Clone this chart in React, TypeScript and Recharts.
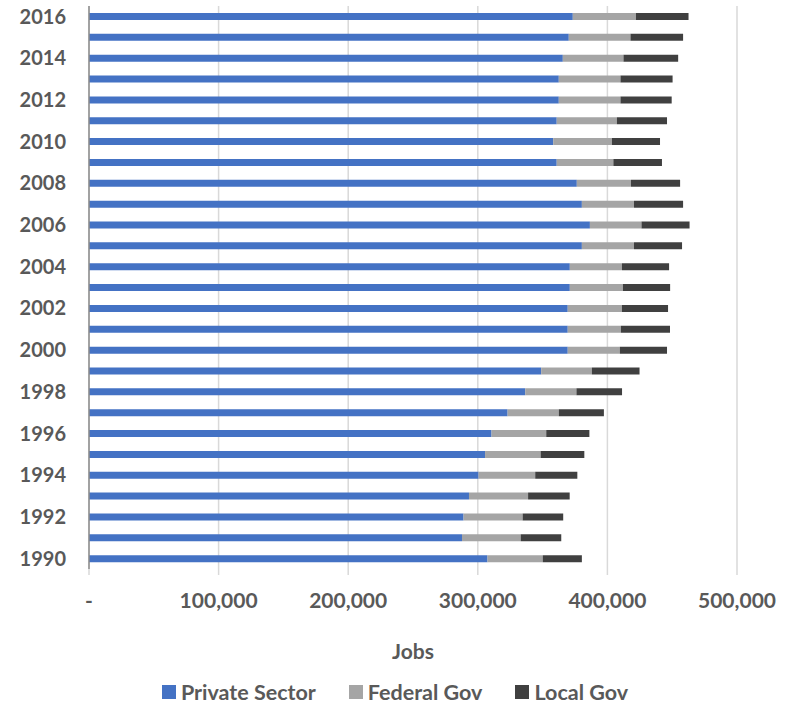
import React from "react";
import { BarChart, Bar, XAxis, YAxis, CartesianGrid, Legend, Label } from "recharts";

const years = [
  "1990", "1991", "1992", "1993", "1994", "1995", "1996", "1997", "1998", "1999",
  "2000", "2001", "2002", "2003", "2004", "2005", "2006", "2007", "2008", "2009",
  "2010", "2011", "2012", "2013", "2014", "2015", "2016",
];

const privateSector = [
  307500, 287800, 289000, 293200, 300600, 305600, 310600, 323000, 336600, 348900,
  369400, 369400, 369400, 371000, 371000, 380300, 386500, 380300, 376400, 360900,
  358200, 360900, 362500, 362500, 365600, 370200, 373300,
];

const federalGov = [
  42600, 45300, 45600, 45600, 43700, 42900, 42200, 39500, 39500, 39100,
  40200, 41000, 41800, 41000, 40200, 40200, 39800, 40200, 41800, 43700,
  45300, 46400, 47600, 47600, 46800, 47600, 48700,
];

const localGov = [
  30200, 31300, 31300, 32100, 32500, 33700, 33300, 34800, 35200, 36800,
  36400, 37900, 35600, 36400, 36400, 37100, 37100, 37900, 37900, 37500,
  37100, 38700, 39500, 40200, 42200, 40600, 40600,
];

const xTicks = [0, 100000, 200000, 300000, 400000, 500000];

const seriesNames = ["Private Sector", "Federal Gov", "Local Gov"];
const seriesColors = ["#4472C4", "#A5A5A5", "#404040"];

const data = years.map((y, i) => ({
  year: y,
  privateSector: privateSector[i],
  federalGov: federalGov[i],
  localGov: localGov[i],
}));

const FONT = "Lato, 'Open Sans', sans-serif";
const TEXT = "#595959";

const fmt = (v: number) => (v === 0 ? "-" : v.toLocaleString("en-US"));

const LegendContent = () => (
  <div style={{ display: "flex", justifyContent: "center", alignItems: "center", fontFamily: FONT, fontWeight: 700, fontSize: 21.5, color: TEXT, height: 30, paddingTop: 4, boxSizing: "border-box" }}>
    {seriesNames.map((n, i) => (
      <div key={n} style={{ display: "flex", alignItems: "center", marginRight: i < 2 ? 33 : 0 }}>
        <span style={{ display: "inline-block", width: 14, height: 14, background: seriesColors[i], marginRight: 5 }} />
        <span>{n}</span>
      </div>
    ))}
  </div>
);

export default function App() {
  return (
    <div style={{ position: "absolute", left: 0, top: 0, width: 790, height: 705, background: "#fff" }}>
      <BarChart
        width={790}
        height={705}
        data={data}
        layout="vertical"
        margin={{ top: 6, right: 53, left: 0, bottom: 0 }}
        barCategoryGap={0}
      >
        <CartesianGrid horizontal={false} stroke="#d9d9d9" strokeWidth={1.5} />
        <XAxis
          type="number"
          domain={[0, 500000]}
          ticks={xTicks}
          tickFormatter={fmt}
          axisLine={false}
          tickLine={{ stroke: "#d9d9d9", strokeWidth: 1.5 }}
          tickSize={6}
          tickMargin={18}
          height={106}
          tick={{ fill: TEXT, fontFamily: FONT, fontWeight: 700, fontSize: 21 }}
        >
          <Label
            value="Jobs"
            position="insideBottom"
            offset={16}
            style={{ fill: TEXT, fontFamily: FONT, fontWeight: 700, fontSize: 21 }}
          />
        </XAxis>
        <YAxis
          type="category"
          dataKey="year"
          reversed
          interval={1}
          width={89}
          axisLine={{ stroke: "#8c8c8c", strokeWidth: 1.5 }}
          tickLine={false}
          tickSize={0}
          tickMargin={23}
          tick={{ fill: TEXT, fontFamily: FONT, fontWeight: 700, fontSize: 20 }}
        />
        <Legend verticalAlign="bottom" content={<LegendContent />} wrapperStyle={{ left: 0, width: 790 }} />
        <Bar dataKey="privateSector" name={seriesNames[0]} stackId="a" fill={seriesColors[0]} barSize={7} isAnimationActive={false} />
        <Bar dataKey="federalGov" name={seriesNames[1]} stackId="a" fill={seriesColors[1]} barSize={7} isAnimationActive={false} />
        <Bar dataKey="localGov" name={seriesNames[2]} stackId="a" fill={seriesColors[2]} barSize={7} isAnimationActive={false} />
      </BarChart>
    </div>
  );
}
